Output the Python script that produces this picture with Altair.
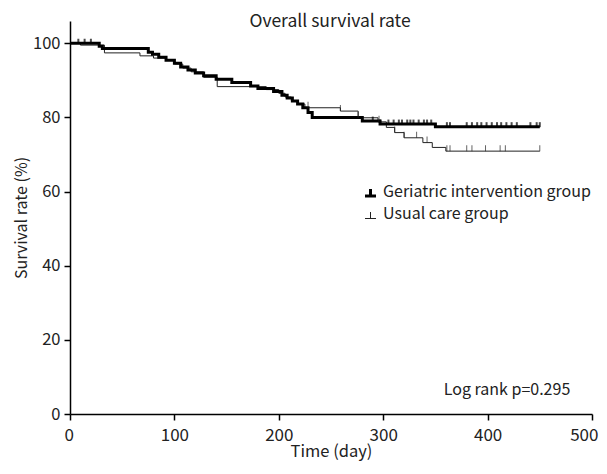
import altair as alt
import pandas as pd

FONT = "Noto Sans CJK KR"

# Geriatric intervention group (thick line): step change points
int_days = [0, 28, 31, 75, 79, 85, 92, 100, 106, 113, 120, 128, 140, 155, 173, 180, 195, 203, 208, 213, 218, 223, 228, 232, 280, 297, 350, 450]
int_surv = [100, 99.2, 98.6, 97.6, 97.0, 96.2, 95.4, 94.6, 93.6, 92.8, 92.0, 91.2, 90.3, 89.4, 88.5, 87.8, 87.0, 86.0, 85.2, 84.4, 83.6, 82.6, 81.3, 80.0, 79.0, 78.2, 77.5, 77.5]

# Usual care group (thin line)
usu_days = [0, 10, 33, 67, 80, 92, 100, 108, 116, 128, 141, 188, 200, 206, 212, 218, 225, 259, 276, 295, 303, 311, 320, 338, 347, 360, 450]
usu_surv = [100, 99.5, 97.4, 96.6, 96.0, 95.4, 94.4, 93.3, 92.3, 90.8, 88.3, 87.5, 86.5, 85.5, 84.5, 83.6, 82.6, 81.7, 79.9, 78.8, 77.3, 75.9, 74.5, 73.2, 71.9, 70.9, 70.9]

# Censoring marks
int_cens = [8, 14, 20, 290, 297, 305, 310, 315, 318, 323, 326, 329, 334, 339, 342, 346, 361, 364, 380, 385, 390, 394, 399, 404, 409, 413, 418, 423, 428, 441, 447, 450]
usu_cens = [228, 259, 276, 296, 311, 320, 332, 342, 361, 364, 380, 385, 398, 412, 417, 450]

x_ticks = [0, 100, 200, 300, 400, 500]
y_ticks = [0, 20, 40, 60, 80, 100]


def step_at(days, surv, d):
    v = surv[0]
    for dd, s in zip(days, surv):
        if dd <= d:
            v = s
    return v


df_int = pd.DataFrame({"day": int_days, "surv": int_surv})
df_usu = pd.DataFrame({"day": usu_days, "surv": usu_surv})
df_ic = pd.DataFrame({"day": int_cens, "surv": [step_at(int_days, int_surv, d) for d in int_cens]})
df_uc = pd.DataFrame({"day": usu_cens, "surv": [step_at(usu_days, usu_surv, d) for d in usu_cens]})

xs = alt.Scale(domain=[0, 500], nice=False)
ys = alt.Scale(domain=[0, 106], nice=False)

x_axis = alt.Axis(values=x_ticks, title="Time (day)", grid=False, labelFontSize=17,
                  titleFontSize=16.5, labelPadding=7, titlePadding=0,
                  labelFlush=True, labelFlushOffset=6)
y_axis = alt.Axis(values=y_ticks, title="Survival rate (%)", grid=False, labelFontSize=16.5,
                  titleFontSize=16, labelPadding=4, titlePadding=3)

line_usu = alt.Chart(df_usu).mark_line(interpolate="step-after", color="#222", strokeWidth=1).encode(
    x=alt.X("day:Q", scale=xs, axis=x_axis),
    y=alt.Y("surv:Q", scale=ys, axis=y_axis),
)
line_int = alt.Chart(df_int).mark_line(interpolate="step-after", color="black", strokeWidth=3).encode(
    x=alt.X("day:Q", scale=xs), y=alt.Y("surv:Q", scale=ys)
)
cens_usu = alt.Chart(df_uc).mark_tick(orient="vertical", size=6, thickness=1, color="#222", yOffset=-3).encode(
    x=alt.X("day:Q", scale=xs), y=alt.Y("surv:Q", scale=ys)
)
cens_int = alt.Chart(df_ic).mark_tick(orient="vertical", size=5, thickness=2, color="black", yOffset=-2).encode(
    x=alt.X("day:Q", scale=xs), y=alt.Y("surv:Q", scale=ys)
)

one = pd.DataFrame({"a": [0]})
title = alt.Chart(one).mark_text(text="Overall survival rate", font=FONT, fontSize=17.5, color="#222",
                                 align="center", baseline="middle").encode(x=alt.value(260), y=alt.value(1))
logrank = alt.Chart(one).mark_text(text="Log rank p=0.295", font=FONT, fontSize=16, color="#222",
                                   align="center", baseline="middle").encode(x=alt.value(437), y=alt.value(369))
leg1 = alt.Chart(one).mark_text(text="Geriatric intervention group", font=FONT, fontSize=16, color="#222",
                                align="left", baseline="middle").encode(x=alt.value(313), y=alt.value(171))
leg2 = alt.Chart(one).mark_text(text="Usual care group", font=FONT, fontSize=16, color="#222",
                                align="left", baseline="middle").encode(x=alt.value(313), y=alt.value(193))
leg1h = alt.Chart(one).mark_rule(color="black", strokeWidth=3).encode(x=alt.value(295), x2=alt.value(306), y=alt.value(175))
leg1v = alt.Chart(one).mark_rule(color="black", strokeWidth=3).encode(x=alt.value(300.5), y=alt.value(168), y2=alt.value(175))
leg2h = alt.Chart(one).mark_rule(color="#222", strokeWidth=1).encode(x=alt.value(295), x2=alt.value(306), y=alt.value(197.5))
leg2v = alt.Chart(one).mark_rule(color="#222", strokeWidth=1).encode(x=alt.value(300.5), y=alt.value(191), y2=alt.value(197.5))

chart = alt.layer(
    line_usu, line_int, cens_usu, cens_int, title, logrank, leg1, leg2, leg1h, leg1v, leg2h, leg2v
).properties(
    width=522, height=393,
    autosize=alt.AutoSizeParams(type="none"),
    padding={"left": 62, "top": 13, "right": 7, "bottom": 52},
).configure_view(stroke=None).configure_axis(
    labelFont=FONT, titleFont=FONT, labelColor="#222", titleColor="#222",
    domainColor="black", tickColor="black", domainWidth=1.5, tickWidth=1.5, tickSize=6,
    titleFontWeight="normal",
)

chart.save("out.html", embed_options={"renderer": "svg", "actions": False})
